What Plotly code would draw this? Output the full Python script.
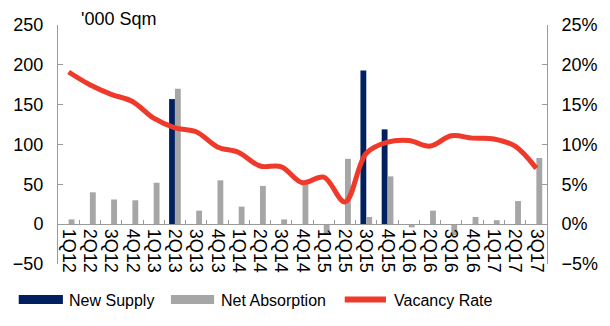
import plotly.graph_objects as go

quarters = ["1Q12", "2Q12", "3Q12", "4Q12", "1Q13", "2Q13", "3Q13", "4Q13",
            "1Q14", "2Q14", "3Q14", "4Q14", "1Q15", "2Q15", "3Q15", "4Q15",
            "1Q16", "2Q16", "3Q16", "4Q16", "1Q17", "2Q17", "3Q17"]

# '000 sqm
new_supply = [0, 0, 0, 0, 0, 157, 0, 0, 0, 0, 0, 0, 0, 0, 193, 119,
              0, 0, 0, 0, 0, 0, 0]
net_absorption = [6, 40, 31, 30, 52, 170, 17, 55, 22, 48, 6, 50, -13, 82, 9, 60,
                  -4, 17, -14, 9, 5, 29, 83]
# percent
vacancy_rate = [19.1, 17.5, 16.3, 15.4, 13.3, 12.1, 11.6, 9.7, 9.0, 7.3, 7.2, 5.2,
                5.9, 2.8, 8.9, 10.3, 10.5, 9.8, 11.1, 10.8, 10.7, 9.8, 7.0]

NAVY = "#002060"
GREY = "#a6a6a6"
RED = "#ef3a2b"
AXIS = "#9a9a9a"
FONT = "Liberation Sans, Arial, sans-serif"

fig = go.Figure()
fig.add_trace(go.Bar(x=quarters, y=new_supply, name="New Supply",
                     marker=dict(color=NAVY, line=dict(width=0)), showlegend=False))
fig.add_trace(go.Bar(x=quarters, y=net_absorption, name="Net Absorption",
                     marker=dict(color=GREY, line=dict(width=0)), showlegend=False))
fig.add_trace(go.Scatter(x=quarters, y=[v / 100 for v in vacancy_rate], name="Vacancy Rate",
                         yaxis="y2", mode="lines",
                         line=dict(color=RED, width=5, shape="spline", smoothing=1),
                         showlegend=False))

fig.update_layout(
    width=610, height=326,
    margin=dict(l=58, r=54, t=25, b=62),
    paper_bgcolor="white", plot_bgcolor="white",
    font=dict(family=FONT, size=18, color="#000000"),
    barmode="group", bargap=0.45, bargroupgap=0,
    xaxis=dict(
        type="category", anchor="free", position=1 / 6,
        tickmode="array", tickvals=quarters, ticktext=quarters,
        showline=True, linecolor=AXIS, linewidth=1,
        ticks="inside", ticklen=4, tickcolor=AXIS, tickson="boundaries",
        tickangle=90, tickfont=dict(size=18), showgrid=False, zeroline=False,
    ),
    yaxis=dict(
        range=[-50, 250], dtick=50, showline=True, linecolor=AXIS, linewidth=1,
        ticks="inside", ticklen=5, tickcolor=AXIS, showgrid=False, zeroline=False,
        ticklabelstandoff=10,
    ),
    yaxis2=dict(
        range=[-0.05, 0.25], dtick=0.05, tickformat=".0%", overlaying="y", side="right",
        showline=True, linecolor=AXIS, linewidth=1, ticks="inside", ticklen=5,
        tickcolor=AXIS, showgrid=False, zeroline=False, ticklabelstandoff=10,
    ),
    annotations=[dict(text="'000 Sqm", xref="paper", yref="paper", x=0.042, y=1,
                      xanchor="left", yanchor="middle", yshift=6, showarrow=False,
                      font=dict(size=18))],
)

# Legend row drawn beneath the chart
def px_x(p):
    return (p - 58) / 498

def px_y(p):
    return (264 - p) / 239

legend_items = [
    ("rect", NAVY, 18, 63, 67, "New Supply"),
    ("rect", GREY, 173, 217, 222, "Net Absorption"),
    ("line", RED, 347, 395, 398, "Vacancy Rate"),
]
for kind, color, x0, x1, tx, label in legend_items:
    if kind == "rect":
        fig.add_shape(type="rect", xref="paper", yref="paper",
                      x0=px_x(x0), x1=px_x(x1), y0=px_y(304), y1=px_y(295),
                      fillcolor=color, line=dict(width=0))
    else:
        fig.add_shape(type="line", xref="paper", yref="paper",
                      x0=px_x(x0 + 3), x1=px_x(x1 - 3), y0=px_y(299.5), y1=px_y(299.5),
                      line=dict(color=color, width=6))
    fig.add_annotation(text=label, xref="paper", yref="paper", x=px_x(tx), y=px_y(300),
                       xanchor="left", yanchor="middle", showarrow=False,
                       font=dict(size=16))

fig.write_html("out.html")
